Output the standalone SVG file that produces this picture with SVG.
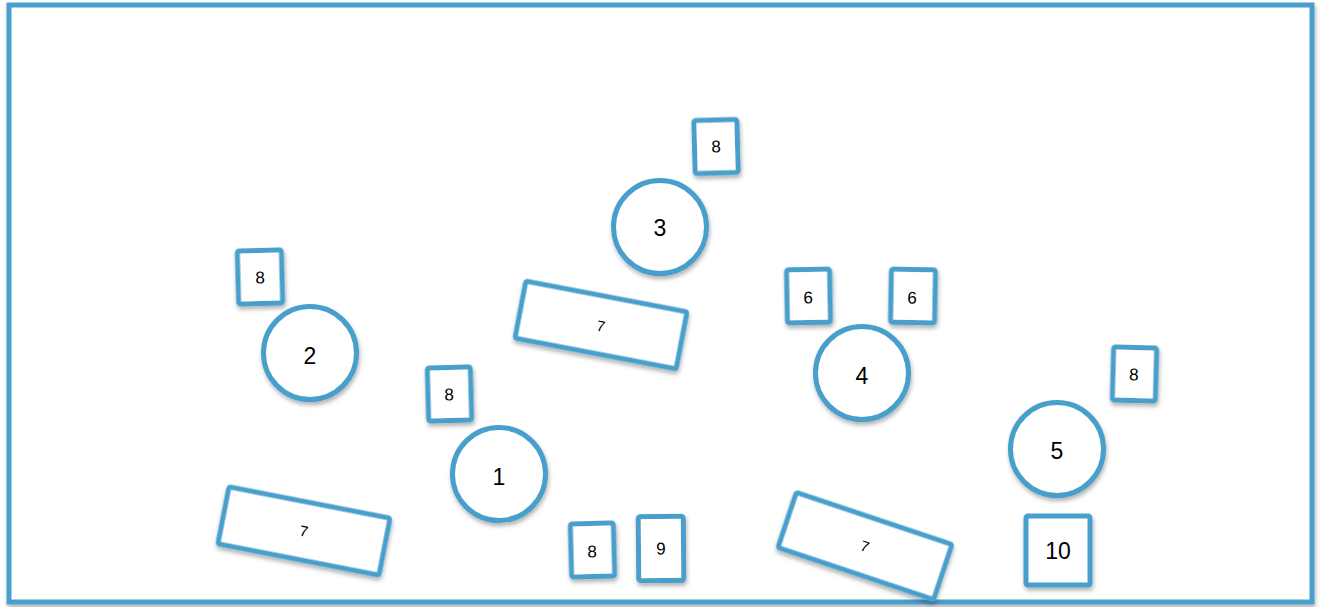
<svg xmlns="http://www.w3.org/2000/svg" width="1320" height="607" viewBox="0 0 1320 607">
<defs>
<filter id="sh" x="-20%" y="-20%" width="140%" height="150%">
<feDropShadow dx="1" dy="3" stdDeviation="2" flood-color="#000" flood-opacity="0.3"/>
</filter>
<style>
.s{fill:#fff;stroke:#4a9fcc;stroke-width:5;filter:url(#sh)}
.t{font-family:"Liberation Sans",Arial,sans-serif;fill:#000;text-anchor:middle;dominant-baseline:central}
.c{font-size:23px}
.m{font-size:17px}
.r{font-size:15px}
</style>
</defs>
<rect x="9" y="5" width="1303" height="597" fill="#fff" stroke="#4a9fcc" stroke-width="5" filter="url(#sh)"/>
<g id="connectors"/>
<g id="n8a" transform="rotate(-1.5 716 146)"><rect class="s" x="694.5" y="120" width="43" height="53" rx="2"/><text class="t m" x="716" y="147">8</text></g>
<g id="n3"><circle class="s" cx="660" cy="227" r="46.5"/><text class="t c" x="660" y="228">3</text></g>
<g id="n8b" transform="rotate(-1.5 260 277)"><rect class="s" x="238" y="250.5" width="44" height="53" rx="2"/><text class="t m" x="260" y="278">8</text></g>
<g id="n2"><circle class="s" cx="310" cy="353" r="46.5"/><text class="t c" x="310" y="356">2</text></g>
<g id="n7a" transform="rotate(10.8 601 325)"><rect class="s" x="519" y="296" width="164" height="58" rx="2"/><text class="t r" x="601" y="326">7</text></g>
<g id="n8c" transform="rotate(-1.5 449 394)"><rect class="s" x="428" y="367.5" width="43" height="53" rx="2"/><text class="t m" x="449" y="395">8</text></g>
<g id="n1"><circle class="s" cx="499" cy="474" r="46.5"/><text class="t c" x="499" y="477">1</text></g>
<g id="n6a" transform="rotate(-1 808 296)"><rect class="s" x="787" y="269.5" width="43" height="53" rx="2"/><text class="t m" x="808" y="298">6</text></g>
<g id="n6b" transform="rotate(1 912 296)"><rect class="s" x="891" y="269.5" width="44" height="53" rx="2"/><text class="t m" x="912" y="298">6</text></g>
<g id="n4"><circle class="s" cx="862" cy="373" r="46.5"/><text class="t c" x="862" y="376">4</text></g>
<g id="n8d" transform="rotate(1.5 1134 374)"><rect class="s" x="1113" y="347.5" width="43" height="53" rx="2"/><text class="t m" x="1134" y="375">8</text></g>
<g id="n5"><circle class="s" cx="1057" cy="449" r="46.5"/><text class="t c" x="1057" y="451">5</text></g>
<g id="n7b" transform="rotate(11 304 531)"><rect class="s" x="222" y="502" width="164" height="58" rx="2"/><text class="t r" x="304" y="531">7</text></g>
<g id="n8e" transform="rotate(-1.5 592 550)"><rect class="s" x="571" y="523.5" width="43" height="53" rx="2"/><text class="t m" x="592" y="552">8</text></g>
<g id="n9" transform="rotate(-0.5 661 548)"><rect class="s" x="638.5" y="516.5" width="45" height="64" rx="2"/><text class="t m" x="661" y="549">9</text></g>
<g id="n7c" transform="rotate(18.5 865 546)"><rect class="s" x="783" y="517" width="164" height="58" rx="2"/><text class="t r" x="865" y="546">7</text></g>
<g id="n10"><rect class="s" x="1026" y="516" width="64" height="69" rx="2"/><text class="t c" x="1058" y="551">10</text></g>
</svg>
